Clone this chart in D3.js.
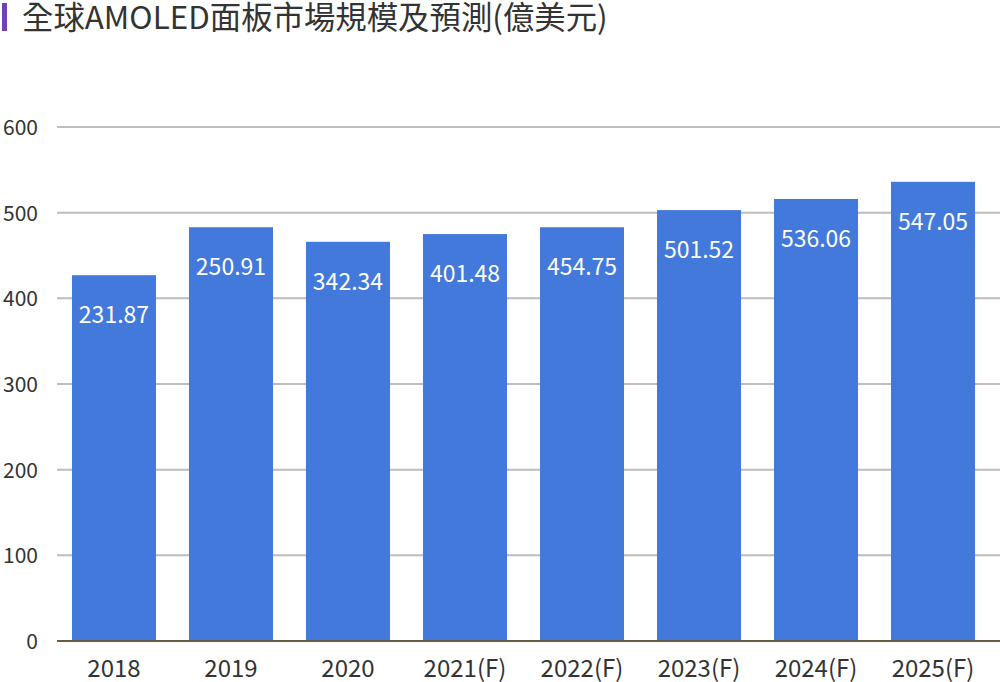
<!DOCTYPE html>
<html><head><meta charset="utf-8">
<script src="https://cdn.jsdelivr.net/npm/d3@7"></script>
<style>body{margin:0;background:#fff;font-family:"Noto Sans CJK TC","Noto Sans",sans-serif;}</style>
</head><body>
<svg id="c" width="1000" height="682"></svg>
<script>
const categories = ["2018","2019","2020","2021(F)","2022(F)","2023(F)","2024(F)","2025(F)"];
const barValues = [427, 483, 466, 475, 483, 503, 516, 536];
const labelValues = ["231.87","250.91","342.34","401.48","454.75","501.52","536.06","547.05"];
const yTicks = [0,100,200,300,400,500,600];
const title = "全球AMOLED面板市場規模及預測(億美元)";

(function(){
const svg = d3.select("#c");
const pLeft = 57, pRight = 1000, pTop = 127, pBottom = 641;
const x = d3.scaleBand().domain(categories).range([pLeft, 990]).paddingInner(0.282).paddingOuter(0.128);
const y = d3.scaleLinear().domain([0, 600]).range([pBottom, pTop]);

svg.append("rect").attr("x",2).attr("y",3).attr("width",5).attr("height",28).attr("fill","#6f42b8");
svg.append("text").attr("x",22).attr("y",29).attr("font-size",31.4).attr("fill","#333").text(title);

svg.append("g").selectAll("line").data(yTicks.filter(d=>d>0)).join("line")
  .attr("x1",pLeft).attr("x2",pRight).attr("y1",d=>y(d)).attr("y2",d=>y(d))
  .attr("stroke","#bdbdbd").attr("stroke-width",2);

svg.append("g").selectAll("text").data(yTicks).join("text")
  .attr("x",38).attr("y",d=>y(d)+8).attr("text-anchor","end")
  .attr("font-size",21).attr("fill","#333").text(d=>d);

svg.append("g").selectAll("rect").data(categories).join("rect")
  .attr("x",d=>x(d)).attr("width",x.bandwidth())
  .attr("y",(d,i)=>y(barValues[i])).attr("height",(d,i)=>pBottom-y(barValues[i]))
  .attr("fill","#4279db");

svg.append("line").attr("x1",pLeft).attr("x2",pRight).attr("y1",pBottom).attr("y2",pBottom)
  .attr("stroke","#6b5d42").attr("stroke-width",2);

svg.append("g").selectAll("text").data(categories).join("text")
  .attr("x",d=>x(d)+x.bandwidth()/2).attr("y",(d,i)=>y(barValues[i])+48)
  .attr("text-anchor","middle").attr("font-size",23).attr("fill","#fff")
  .text((d,i)=>labelValues[i]);

svg.append("g").selectAll("text").data(categories).join("text")
  .attr("x",d=>x(d)+x.bandwidth()/2).attr("y",677)
  .attr("text-anchor","middle").attr("font-size",24).attr("fill","#333").text(d=>d);
})();
</script>
</body></html>
